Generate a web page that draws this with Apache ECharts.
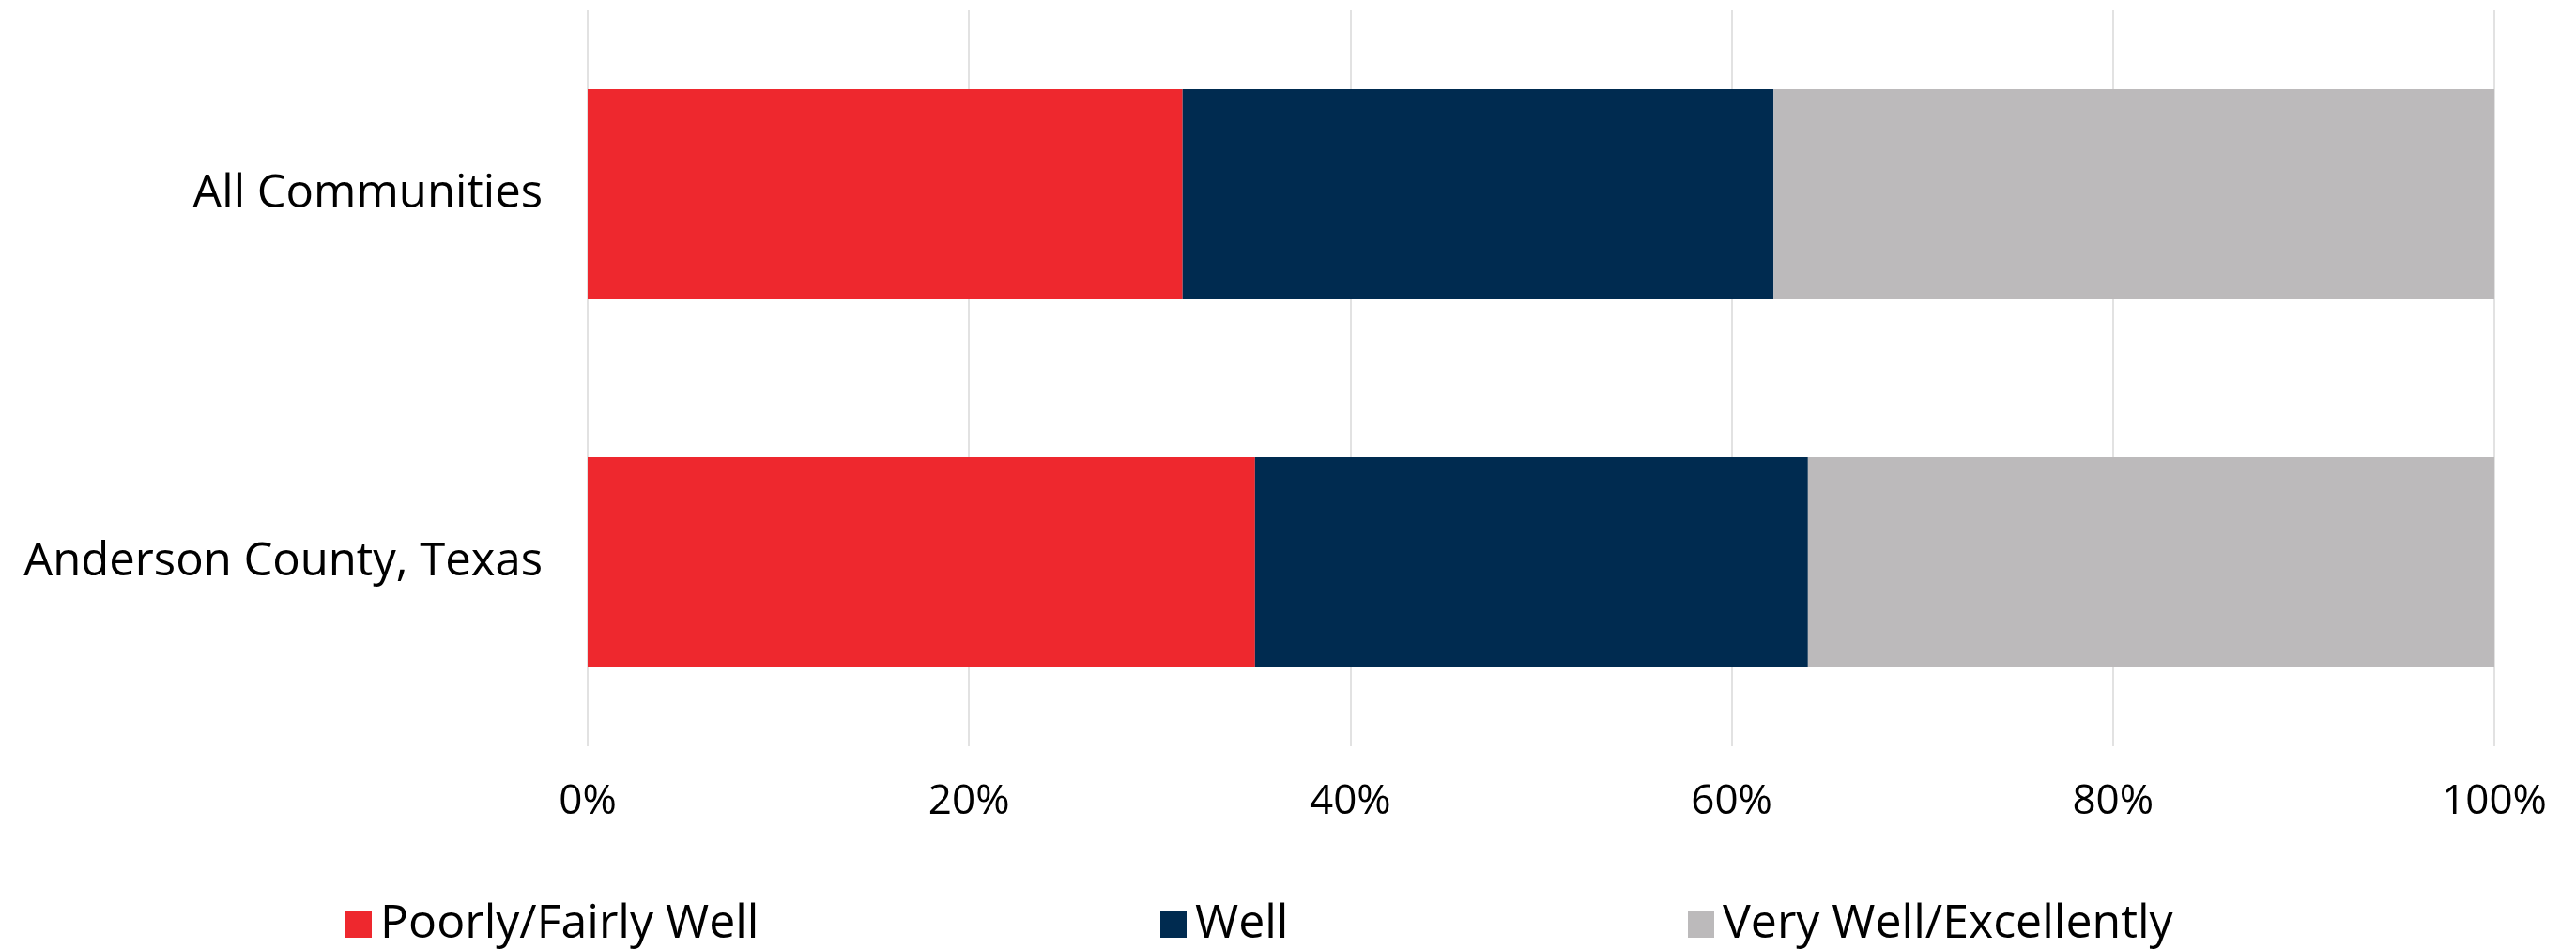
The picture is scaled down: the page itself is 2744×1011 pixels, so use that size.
<!DOCTYPE html>
<html lang="en">
<head>
    <meta charset="UTF-8">
    <title>Chart</title>
    <style>
        html, body { margin: 0; padding: 0; background: #fff; }
    </style>
</head>
<body>
<div id="main" style="width: 2744px;height: 1011px;"></div>
<script src="https://cdn.jsdelivr.net/npm/echarts@6/dist/echarts.min.js"></script>
<script type="text/javascript">

    // categories, top to bottom
    var categories = ['All Communities', 'Anderson County, Texas'];

    // shares in percent
    var poorlyFairly = [31.2, 35.0];
    var well = [31.0, 29.0];
    var veryWell = [37.8, 36.0];

    var seriesNames = ['Poorly/Fairly Well', 'Well', 'Very Well/Excellently'];
    var seriesColors = ['#EE282E', '#002B50', '#BCBABB'];
    var seriesData = [poorlyFairly, well, veryWell];

    var xTicks = [0, 20, 40, 60, 80, 100];

    var fontName = 'Open Sans';

    var series = [];
    for (var i = 0; i < seriesNames.length; i++) {
        series.push({
            name: seriesNames[i],
            type: 'bar',
            stack: 'total',
            barWidth: 224,
            itemStyle: { color: seriesColors[i] },
            data: seriesData[i]
        });
    }

    // one legend per item so each sits where it does in the picture
    var legendLefts = [363, 1231, 1793];
    var legends = [];
    for (var j = 0; j < seriesNames.length; j++) {
        legends.push({
            data: [seriesNames[j]],
            left: legendLefts[j],
            top: 955,
            icon: 'rect',
            itemWidth: 28,
            itemHeight: 28,
            itemGap: 0,
            textStyle: {
                fontFamily: fontName,
                fontSize: 50,
                color: '#000',
                padding: [0, 0, 0, 4]
            }
        });
    }

    var option = {
        backgroundColor: '#fff',
        animation: false,
        legend: legends,
        grid: {
            left: 626,
            right: 87,
            top: 11,
            bottom: 216
        },
        xAxis: {
            type: 'value',
            min: 0,
            max: 100,
            interval: 20,
            axisLine: { show: false },
            axisTick: { show: false },
            splitLine: { lineStyle: { color: '#E2E2E2', width: 2 } },
            axisLabel: {
                margin: 37,
                fontFamily: fontName,
                fontSize: 44,
                color: '#000',
                formatter: function (v) {
                    return xTicks.indexOf(v) >= 0 ? v + '%' : '';
                }
            }
        },
        yAxis: {
            type: 'category',
            inverse: true,
            data: categories,
            axisLine: { show: false },
            axisTick: { show: false },
            axisLabel: {
                margin: 48,
                fontFamily: fontName,
                fontSize: 49,
                color: '#000'
            }
        },
        series: series
    };

    var myChart = echarts.init(document.getElementById('main'));
    myChart.setOption(option);
    window.onresize = function() {
        myChart.resize();
    }
</script>
</body>
</html>
